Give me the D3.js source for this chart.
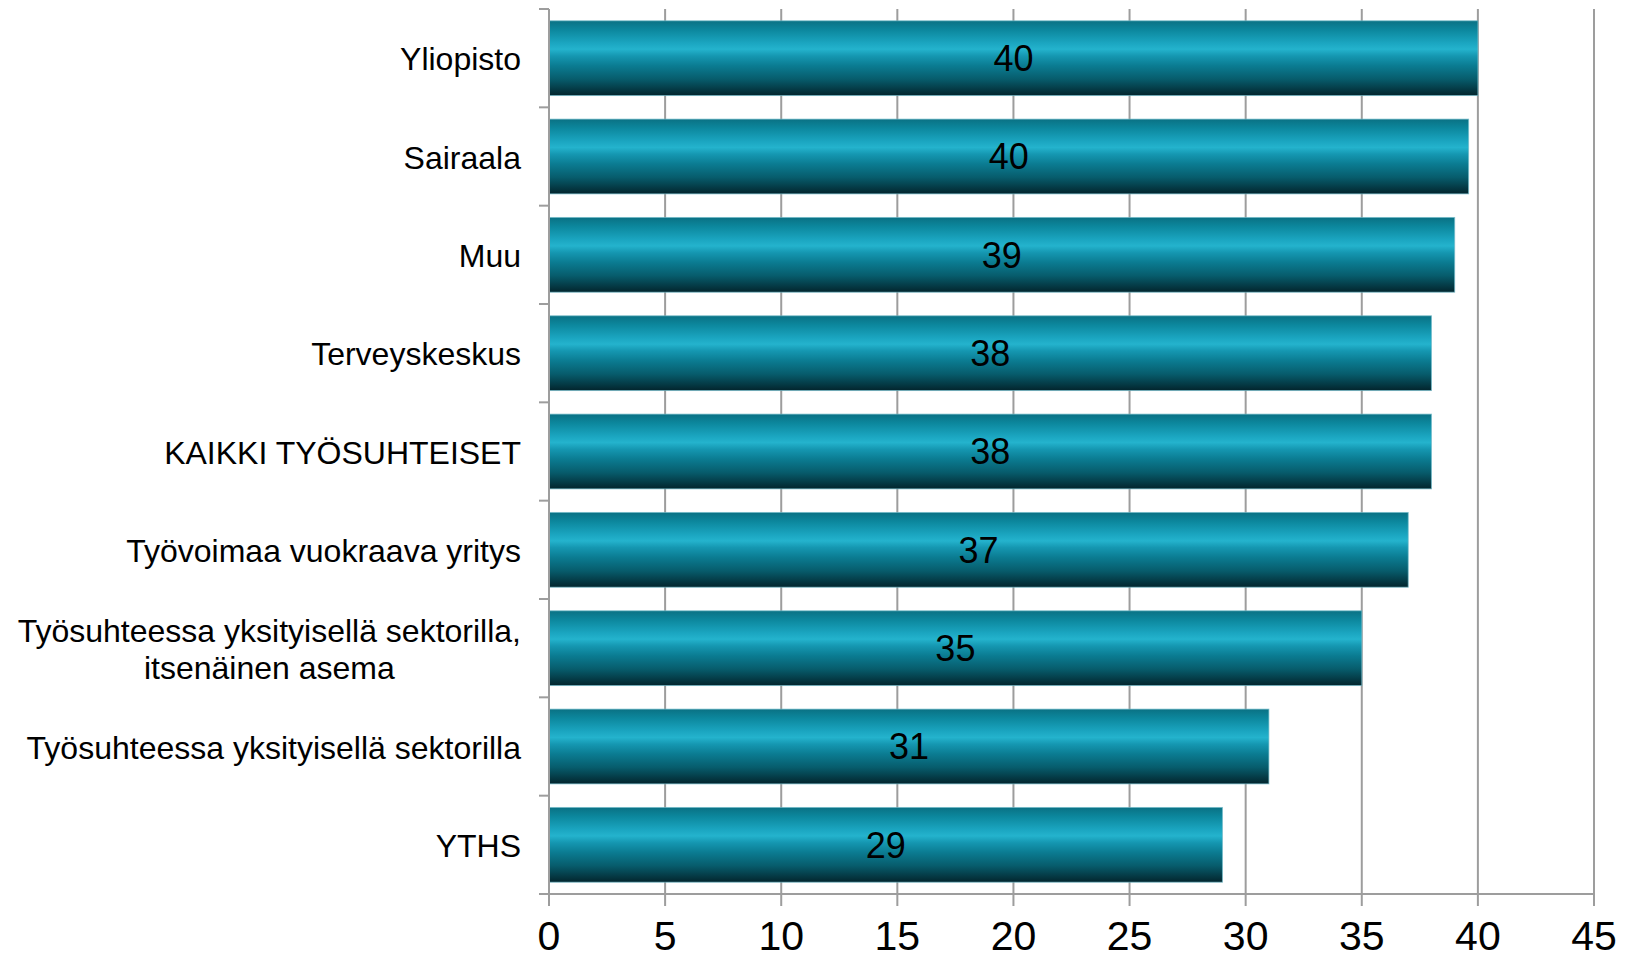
<!DOCTYPE html>
<html>
<head>
<meta charset="utf-8">
<script src="https://cdn.jsdelivr.net/npm/d3@7"></script>
<style>
  html, body { margin: 0; padding: 0; background: #fff; overflow: hidden; }
  svg { display: block; font-family: "Liberation Sans", Arial, sans-serif; }
</style>
</head>
<body>
<svg id="chart" width="1628" height="960"></svg>
<script>
const categories = [
  "Yliopisto",
  "Sairaala",
  "Muu",
  "Terveyskeskus",
  "KAIKKI TYÖSUHTEISET",
  "Työvoimaa vuokraava yritys",
  "Työsuhteessa yksityisellä sektorilla,\nitsenäinen asema",
  "Työsuhteessa yksityisellä sektorilla",
  "YTHS"
];
const values = [40, 39.6, 39, 38, 38, 37, 35, 31, 29];
const xTicks = [0, 5, 10, 15, 20, 25, 30, 35, 40, 45];

(function () {
const svg = d3.select("#chart");
const mLeft = 549, mRight = 1594, mTop = 9, mBottom = 894;

const x = d3.scaleLinear().domain([0, 45]).range([mLeft, mRight]);
const y = d3.scaleBand().domain(categories).range([mTop, mBottom])
  .paddingInner(0.24).paddingOuter(0.12);

const defs = svg.append("defs");
const grad = defs.append("linearGradient").attr("id", "barGrad")
  .attr("x1", 0).attr("y1", 0).attr("x2", 0).attr("y2", 1);
[
  [0, "#0a7184"], [0.12, "#0c879d"], [0.3, "#1ba6c1"], [0.38, "#24b3cd"],
  [0.47, "#1597b1"], [0.6, "#0b7c92"], [0.78, "#075c6c"], [1, "#03252d"]
].forEach(([o, c]) => grad.append("stop").attr("offset", o).attr("stop-color", c));

const gridColor = "#9d9d9d";

// vertical gridlines
svg.append("g").selectAll("line").data(xTicks.slice(1)).join("line")
  .attr("x1", d => x(d)).attr("x2", d => x(d))
  .attr("y1", mTop).attr("y2", mBottom + 12)
  .attr("stroke", gridColor).attr("stroke-width", 2);

// bars
svg.append("g").selectAll("rect").data(values).join("rect")
  .attr("x", x(0))
  .attr("y", (d, i) => y(categories[i]))
  .attr("width", d => x(d) - x(0))
  .attr("height", y.bandwidth())
  .attr("fill", "url(#barGrad)")
  .attr("stroke", "#6fb9c8").attr("stroke-width", 1).attr("stroke-opacity", 0.7);

// axes lines
svg.append("line").attr("x1", mLeft).attr("x2", mLeft).attr("y1", mTop).attr("y2", mBottom + 12)
  .attr("stroke", gridColor).attr("stroke-width", 2);
svg.append("line").attr("x1", mLeft - 10).attr("x2", mRight).attr("y1", mBottom).attr("y2", mBottom)
  .attr("stroke", gridColor).attr("stroke-width", 2);

// category boundary ticks
const step = y.step();
svg.append("g").selectAll("line").data(d3.range(categories.length + 1)).join("line")
  .attr("x1", mLeft - 10).attr("x2", mLeft)
  .attr("y1", i => mTop + i * step).attr("y2", i => mTop + i * step)
  .attr("stroke", gridColor).attr("stroke-width", 2);

// x tick labels
svg.append("g").selectAll("text").data(xTicks).join("text")
  .attr("x", d => x(d)).attr("y", 950)
  .attr("text-anchor", "middle").attr("font-size", 41).attr("fill", "#000")
  .text(d => d);

// value labels
const fmt = d3.format(".0f");
svg.append("g").selectAll("text").data(values).join("text")
  .attr("x", d => (x(0) + x(d)) / 2)
  .attr("y", (d, i) => y(categories[i]) + y.bandwidth() / 2)
  .attr("dy", "0.36em")
  .attr("text-anchor", "middle").attr("font-size", 36).attr("fill", "#000")
  .text(d => fmt(d));

// category labels
const labelRight = mLeft - 28;
const lineH = 36.6;
const catG = svg.append("g").attr("font-size", 32).attr("fill", "#000");
categories.forEach(c => {
  const lines = c.split("\n");
  const cy = y(c) + y.bandwidth() / 2;
  if (lines.length === 1) {
    catG.append("text").attr("x", labelRight).attr("y", cy).attr("dy", "0.38em")
      .attr("text-anchor", "end").text(c);
  } else {
    const texts = lines.map((l, j) => catG.append("text")
      .attr("y", cy + (j - (lines.length - 1) / 2) * lineH).attr("dy", "0.38em")
      .attr("text-anchor", "middle").text(l));
    const maxW = d3.max(texts, t => t.node().getComputedTextLength());
    texts.forEach(t => t.attr("x", labelRight - maxW / 2));
  }
});
})();
</script>
</body>
</html>
